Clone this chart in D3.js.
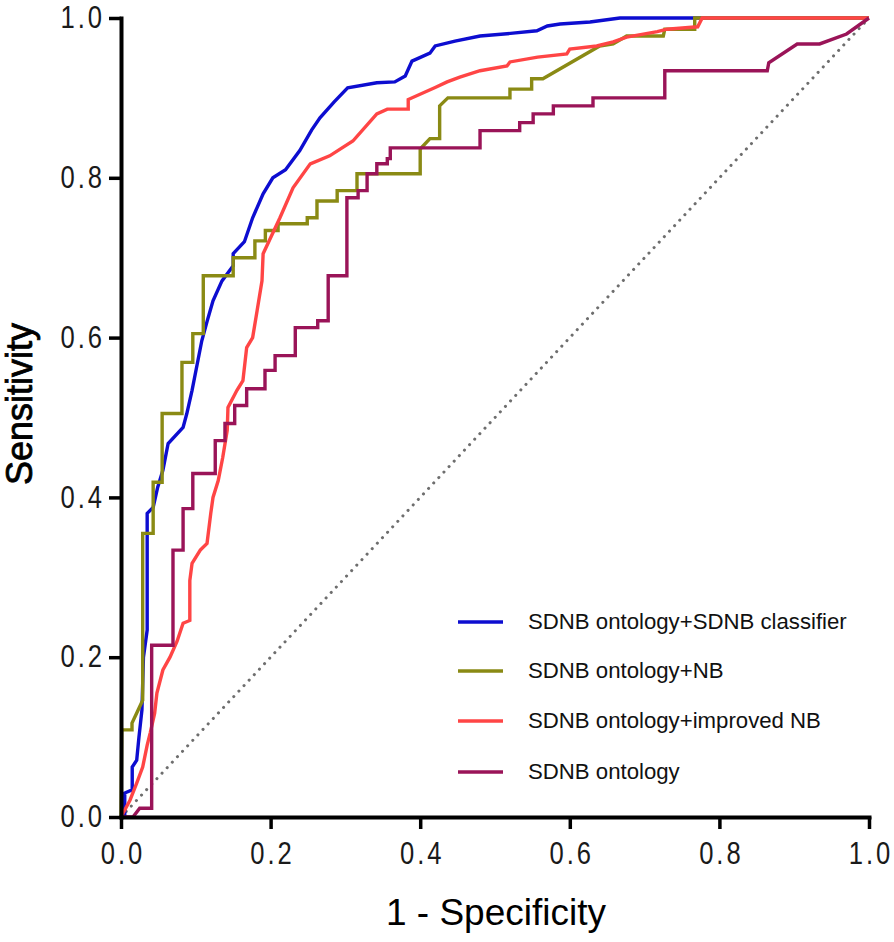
<!DOCTYPE html>
<html>
<head>
<meta charset="utf-8">
<script src="https://cdn.jsdelivr.net/npm/d3@7/dist/d3.min.js"></script>
<style>
  html, body { margin: 0; padding: 0; background: #fff; }
  svg { display: block; }
</style>
</head>
<body>
<svg id="chart" width="894" height="942"></svg>
<script>
// ---- data ----
const seriesNames = [
  "SDNB ontology+SDNB classifier",
  "SDNB ontology+NB",
  "SDNB ontology+improved NB",
  "SDNB ontology"
];
const seriesColors = ["#0d0dd0", "#8a8a14", "#ff4545", "#9a1458"];

const xTicks = [0, 0.2, 0.4, 0.6, 0.8, 1.0];
const yTicks = [0, 0.2, 0.4, 0.6, 0.8, 1.0];

// SDNB ontology+SDNB classifier : [1-specificity, sensitivity]
const blueFpr = [0,0.005,0.005,0.015,0.015,0.021,0.024,0.028,0.03,0.035,0.035,0.035,0.043,0.049,0.056,0.063,0.083,0.088,0.095,0.108,0.115,0.123,0.135,0.15,0.15,0.165,0.176,0.19,0.203,0.22,0.239,0.255,0.266,0.285,0.303,0.342,0.366,0.38,0.389,0.413,0.42,0.4465,0.48,0.524,0.556,0.57,0.587,0.627,0.667,1.0];
const blueTpr = [0,0.0,0.03,0.034,0.0625,0.071,0.10,0.134,0.2,0.234,0.296,0.38,0.3875,0.4125,0.434,0.4675,0.4875,0.505,0.534,0.596,0.62,0.646,0.671,0.69,0.705,0.72,0.75,0.78,0.80,0.81,0.834,0.86,0.875,0.895,0.9125,0.919,0.92,0.9275,0.946,0.956,0.965,0.971,0.9775,0.981,0.984,0.99,0.9925,0.995,1.0,1.0];

// SDNB ontology+NB
const oliveFpr = [0,0.001,0.0147,0.0147,0.029,0.029,0.043,0.043,0.055,0.055,0.0815,0.0815,0.096,0.096,0.11,0.11,0.15,0.15,0.179,0.179,0.193,0.193,0.21,0.21,0.249,0.249,0.262,0.262,0.289,0.289,0.3155,0.3155,0.4,0.4,0.413,0.426,0.426,0.437,0.52,0.52,0.549,0.549,0.564,0.64,0.658,0.676,0.725,0.727,0.767,0.767,1.0];
const oliveTpr = [0,0.109,0.109,0.1175,0.146,0.355,0.355,0.419,0.419,0.505,0.505,0.569,0.569,0.605,0.605,0.6775,0.6775,0.70,0.70,0.721,0.721,0.734,0.734,0.7425,0.7425,0.75,0.75,0.771,0.771,0.784,0.784,0.805,0.805,0.836,0.849,0.849,0.89,0.9,0.9,0.911,0.911,0.924,0.924,0.965,0.9675,0.9775,0.9775,0.986,0.986,1.0,1.0];

// SDNB ontology+improved NB
const redFpr = [0,0.012,0.021,0.029,0.035,0.039,0.045,0.048,0.056,0.0655,0.075,0.083,0.092,0.092,0.095,0.106,0.115,0.12,0.123,0.13,0.136,0.142,0.143,0.155,0.163,0.168,0.176,0.182,0.1885,0.19,0.2125,0.23,0.253,0.279,0.31,0.342,0.356,0.384,0.384,0.42,0.436,0.453,0.48,0.516,0.52,0.557,0.596,0.6,0.636,0.658,0.676,0.717,0.73,0.771,0.777,1.0];
const redTpr = [0,0.021,0.0425,0.0625,0.09,0.105,0.13,0.155,0.184,0.2,0.22,0.2425,0.246,0.296,0.3175,0.334,0.3425,0.38,0.4,0.421,0.45,0.484,0.5125,0.534,0.546,0.5875,0.6,0.634,0.671,0.705,0.75,0.7875,0.8175,0.8275,0.846,0.88,0.886,0.886,0.898,0.913,0.92,0.926,0.934,0.94,0.945,0.951,0.955,0.961,0.965,0.97,0.976,0.983,0.986,0.989,1.0,1.0];

// SDNB ontology
const purpleFpr = [0,0.016,0.025,0.041,0.041,0.0695,0.0695,0.083,0.083,0.096,0.096,0.126,0.126,0.139,0.139,0.152,0.152,0.168,0.168,0.1925,0.1925,0.206,0.206,0.233,0.233,0.263,0.263,0.277,0.277,0.302,0.302,0.317,0.317,0.329,0.329,0.342,0.342,0.356,0.356,0.36,0.36,0.48,0.48,0.533,0.533,0.551,0.551,0.578,0.578,0.631,0.631,0.727,0.727,0.864,0.866,0.904,0.934,0.97,1.0];
const purpleTpr = [0,0,0.011,0.011,0.215,0.215,0.334,0.334,0.386,0.386,0.43,0.43,0.471,0.471,0.4925,0.4925,0.515,0.515,0.536,0.536,0.559,0.559,0.5775,0.5775,0.6125,0.6125,0.621,0.621,0.6775,0.6775,0.775,0.775,0.784,0.784,0.805,0.805,0.8175,0.8175,0.824,0.824,0.8375,0.8375,0.859,0.859,0.869,0.869,0.88,0.88,0.89,0.89,0.9,0.9,0.934,0.934,0.944,0.9675,0.9675,0.98,1.0];

const curveFpr = [blueFpr, oliveFpr, redFpr, purpleFpr];
const curveTpr = [blueTpr, oliveTpr, redTpr, purpleTpr];
const refLine = [[0, 0], [1, 1]];

// ---- drawing ----
const svg = d3.select("#chart");
svg.append("rect").attr("width", 894).attr("height", 942).attr("fill", "#fff");

const x = d3.scaleLinear().domain([0, 1]).range([121, 869]);
const y = d3.scaleLinear().domain([0, 1]).range([817, 18]);

const line = d3.line().x(d => x(d[0])).y(d => y(d[1])).curve(d3.curveLinear);

// reference diagonal
svg.append("path")
  .datum(refLine)
  .attr("d", line)
  .attr("fill", "none")
  .attr("stroke", "#6e6e6e")
  .attr("stroke-width", 3)
  .attr("stroke-linecap", "round")
  .attr("stroke-dasharray", "0.1 7.4");

// ROC curves
curveFpr.forEach((fpr, i) => {
  const pts = fpr.map((v, j) => [v, curveTpr[i][j]]);
  svg.append("path")
    .datum(pts)
    .attr("d", line)
    .attr("fill", "none")
    .attr("stroke", seriesColors[i])
    .attr("stroke-width", 3.4)
    .attr("stroke-linejoin", "miter")
    .attr("stroke-linecap", "butt");
});

// axes
const tickFont = "'Liberation Sans', Arial, sans-serif";
const fmt = d3.format(".1f");
const sx = 0.84;
const ls = 3.5;

const gx = svg.append("g")
  .attr("transform", `translate(0,${y(0)})`)
  .call(d3.axisBottom(x).tickValues(xTicks).tickFormat(fmt).tickSize(12).tickSizeOuter(0).tickPadding(13));
const gy = svg.append("g")
  .attr("transform", `translate(${x(0)},0)`)
  .call(d3.axisLeft(y).tickValues(yTicks).tickFormat(fmt).tickSize(12).tickSizeOuter(0).tickPadding(7));

[gx, gy].forEach(g => {
  g.select(".domain").attr("stroke", "#000").attr("stroke-width", 4).attr("stroke-linecap", "square");
  g.selectAll(".tick line").attr("stroke", "#000").attr("stroke-width", 3.5);
  g.selectAll(".tick text")
    .attr("font-family", tickFont)
    .attr("font-size", 30.5)
    .attr("letter-spacing", ls + "px")
    .attr("fill", "#1a1a1a")
    .attr("transform", `scale(${sx},1)`);
});
gy.selectAll(".tick text").attr("x", -19 / sx + ls);
gx.selectAll(".tick text").attr("x", ls / 2);

// axis titles
svg.append("text")
  .attr("transform", `translate(32,${404}) rotate(-90)`)
  .attr("text-anchor", "middle")
  .attr("font-family", "'Liberation Sans', Arial, sans-serif")
  .attr("font-size", 36)
  .attr("fill", "#000")
  .attr("stroke", "#000")
  .attr("stroke-width", 0.8)
  .text("Sensitivity");

svg.append("text")
  .attr("x", 496)
  .attr("y", 925)
  .attr("text-anchor", "middle")
  .attr("font-family", "'Liberation Sans', Arial, sans-serif")
  .attr("font-size", 37)
  .attr("fill", "#000")
  .text("1 - Specificity");

// legend
const legendY = [622, 671, 721, 772];
const legend = svg.append("g");
seriesNames.forEach((name, i) => {
  legend.append("line")
    .attr("x1", 458).attr("x2", 503)
    .attr("y1", legendY[i]).attr("y2", legendY[i])
    .attr("stroke", seriesColors[i])
    .attr("stroke-width", 3.6);
  legend.append("text")
    .attr("x", 528)
    .attr("y", legendY[i] + 7)
    .attr("font-family", "'Liberation Sans', Arial, sans-serif")
    .attr("font-size", 22.2)
    .attr("fill", "#111")
    .text(name);
});
</script>
</body>
</html>
